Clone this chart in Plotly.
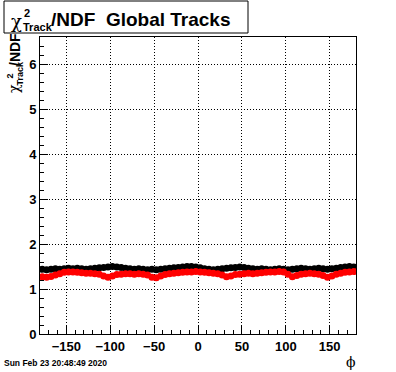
import plotly.graph_objects as go

# ---- data ----
phi = [-177.5 + 5 * i for i in range(72)]
chi2_black = [
    1.44, 1.43, 1.44, 1.45, 1.44, 1.45, 1.46,
    1.45, 1.46, 1.45, 1.44, 1.45, 1.46, 1.47,
    1.48, 1.49, 1.50, 1.49, 1.48, 1.46, 1.45,
    1.44, 1.45, 1.44, 1.43, 1.44, 1.43, 1.44,
    1.45, 1.46, 1.47, 1.48, 1.49, 1.50, 1.50,
    1.49, 1.47, 1.45, 1.44, 1.43, 1.44, 1.45,
    1.46, 1.47, 1.48, 1.49, 1.48, 1.46, 1.45,
    1.44, 1.45, 1.44, 1.43, 1.44, 1.45, 1.44,
    1.43, 1.44, 1.45, 1.46, 1.45, 1.44, 1.45,
    1.46, 1.45, 1.44, 1.45, 1.46, 1.48, 1.49,
    1.50, 1.49,
]
chi2_red = [
    1.27, 1.26, 1.28, 1.31, 1.34, 1.37, 1.38,
    1.38, 1.37, 1.36, 1.35, 1.35, 1.34, 1.33,
    1.29, 1.26, 1.29, 1.32, 1.33, 1.34, 1.34,
    1.33, 1.34, 1.33, 1.31, 1.26, 1.25, 1.29,
    1.32, 1.34, 1.35, 1.36, 1.37, 1.38, 1.38,
    1.39, 1.38, 1.37, 1.36, 1.35, 1.34, 1.31,
    1.27, 1.29, 1.32, 1.33, 1.34, 1.35, 1.34,
    1.35, 1.36, 1.37, 1.38, 1.38, 1.39, 1.38,
    1.33, 1.27, 1.30, 1.33, 1.34, 1.35, 1.34,
    1.33, 1.30, 1.26, 1.29, 1.33, 1.35, 1.37,
    1.38, 1.39,
]
x_ticks = [-150, -100, -50, 0, 50, 100, 150]
y_ticks = [0, 1, 2, 3, 4, 5, 6]

W, H = 396, 372
L, R, T, B = 40, 356, 37, 334


def px(x):
    return (x - L) / (R - L)


def py(y):
    return (B - y) / (B - T)


FONT = "Liberation Sans"

fig = go.Figure()
fig.add_trace(go.Scatter(x=phi, y=chi2_black, mode="markers",
                         marker=dict(color="black", size=7, symbol="circle"),
                         showlegend=False, cliponaxis=True))
fig.add_trace(go.Scatter(x=phi, y=chi2_red, mode="markers",
                         marker=dict(color="#ff0000", size=7, symbol="circle"),
                         showlegend=False, cliponaxis=True))

axis_common = dict(
    showline=True, linecolor="black", linewidth=1, mirror=True,
    ticks="inside", tickcolor="black", ticklen=8, tickwidth=1,
    showgrid=True, gridcolor="black", gridwidth=1, griddash="1px,2px",
    zeroline=False,
    tickfont=dict(family=FONT, size=13, color="black", weight="bold"),
)

fig.update_xaxes(range=[-180, 180], tickmode="array", tickvals=x_ticks,
                 ticktext=[("\u2212" + str(-v)) if v < 0 else str(v) for v in x_ticks],
                 minor=dict(dtick=10, tick0=0, ticks="inside", ticklen=4,
                            tickcolor="black", showgrid=False),
                 **axis_common)
fig.update_yaxes(range=[0, 6.6], tickmode="array", tickvals=y_ticks,
                 ticktext=[str(v) for v in y_ticks],
                 minor=dict(dtick=0.2, tick0=0, ticks="inside", ticklen=4,
                            tickcolor="black", showgrid=False),
                 **axis_common)

shapes = [dict(type="rect", xref="paper", yref="paper",
               x0=px(4), x1=px(248), y0=py(1), y1=py(33),
               line=dict(color="black", width=1), fillcolor="white", layer="above")]

ann = []


def add(text, x, y, size, bold=True, xa="left", ya="middle", angle=0, family=FONT):
    ann.append(dict(text=text, x=px(x), y=py(y), xref="paper", yref="paper",
                    xanchor=xa, yanchor=ya, showarrow=False, textangle=angle,
                    font=dict(family=family, size=size, color="black",
                              weight="bold" if bold else "normal"),
                    borderpad=0))


# title
add("\u03c7", 10, 21, 18, bold=False, family="DejaVu Serif")
add("2", 23, 13, 11)
add("Track", 22, 27, 11)
add("/NDF  Global Tracks", 50, 20, 19)

# y-axis title (rotated)
add("/NDF", 15, 50, 14, xa="center", angle=-90)
add("Track", 19.5, 73, 9, xa="center", angle=-90)
add("2", 9.5, 76, 9, xa="center", angle=-90)
add("\u03c7", 14, 89, 14, bold=False, xa="center", angle=-90, family="DejaVu Serif")

# x-axis title
add("\u03d5", 351, 362, 14, bold=False, xa="center", family="DejaVu Serif")

# date stamp
add("Sun Feb 23 20:48:49 2020", 3, 363, 8.5, bold=True)

fig.update_layout(width=W, height=H,
                  margin=dict(l=L, r=W - R, t=T, b=H - B, pad=0),
                  paper_bgcolor="white", plot_bgcolor="white",
                  shapes=shapes, annotations=ann, showlegend=False)

fig.write_html("out.html", config={"displayModeBar": False},
               post_script="document.body.style.margin='0px';document.body.style.padding='0px';")
